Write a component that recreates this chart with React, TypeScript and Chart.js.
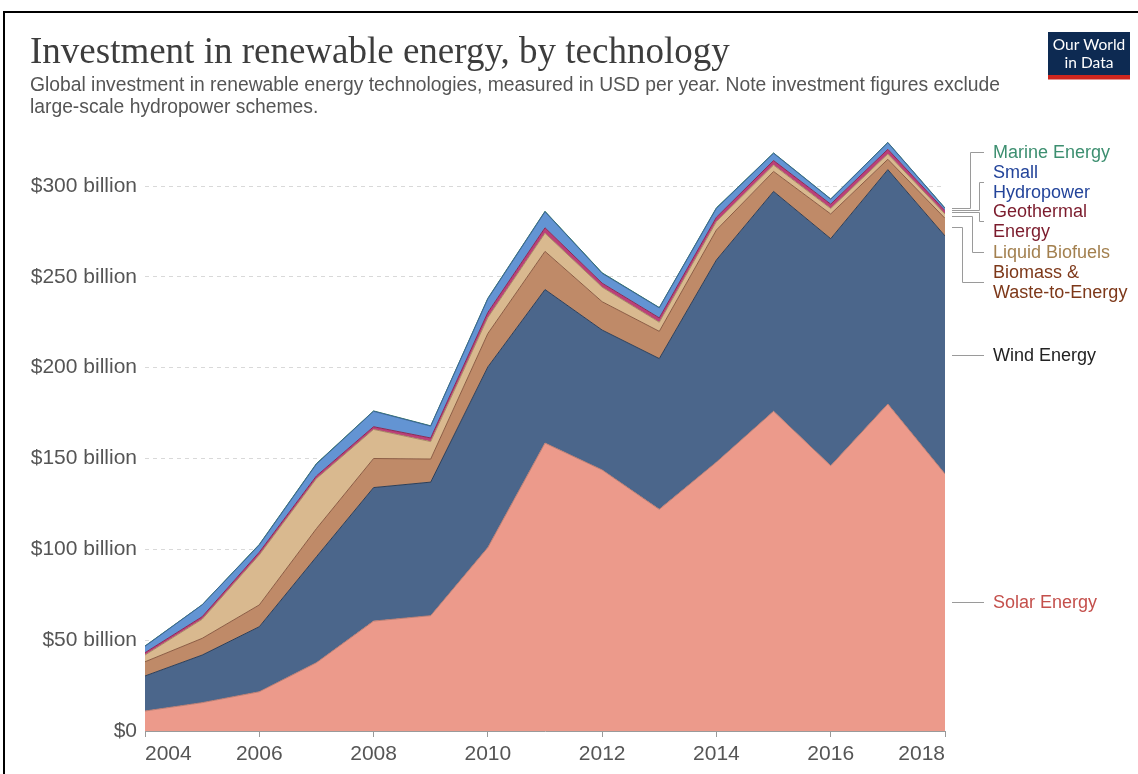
import React, { useEffect, useRef } from 'react';
import { Chart, registerables } from 'chart.js';

Chart.register(...registerables);

// ---- data (USD billions per year) ----
const years = [2004, 2005, 2006, 2007, 2008, 2009, 2010, 2011, 2012, 2013, 2014, 2015, 2016, 2017, 2018];
const solarEnergy = [11, 15.6, 21.6, 37.6, 60.5, 63.5, 101, 158.5, 143.7, 122, 148, 176, 146, 180, 141.5];
const windEnergy = [19.3, 26.2, 35.8, 58.3, 73.5, 73.5, 99.4, 84.5, 77, 83, 111.3, 121, 125, 129, 131];
const biomassWaste = [7.8, 9.2, 12, 15.5, 16, 12.7, 18.4, 21, 15.6, 15, 16.5, 11, 13.6, 5.7, 9.7];
const liquidBiofuels = [3.7, 10.5, 27.5, 27.5, 16, 9.6, 8.8, 10, 8, 5, 4.6, 3.5, 3, 2.9, 2.4];
const geothermalEnergy = [1.3, 1.4, 1.5, 1.5, 1.5, 2, 2.8, 3, 2.2, 2.4, 2.4, 2.5, 2.4, 2.6, 1.8];
const smallHydropower = [3.5, 6.5, 4, 6.5, 8.5, 6.5, 7.5, 8.8, 5.4, 5.5, 4.9, 4, 2.7, 3.6, 1.3];
const marineEnergy = [0.2, 0.1, 0.3, 0.3, 0.2, 0.2, 0.3, 0.3, 0.3, 0.2, 0.3, 0.2, 0.2, 0.2, 0.2];

const yTickValues = [0, 50, 100, 150, 200, 250, 300];
const xTickYears = [2004, 2006, 2008, 2010, 2012, 2014, 2016, 2018];

const titleText = 'Investment in renewable energy, by technology';
const subtitleLines = [
  'Global investment in renewable energy technologies, measured in USD per year. Note investment figures exclude',
  'large-scale hydropower schemes.',
];

const SANS = '"Liberation Sans", Arial, sans-serif';
const SERIF = '"Liberation Serif", "DejaVu Serif", serif';

const series = [
  { name: 'Solar Energy', values: solarEnergy, fill: '#ec9a8b', line: '#b97d73', text: '#c4504c', lines: ['Solar Energy'], labelY: null as number | null, xv: 0 },
  { name: 'Wind Energy', values: windEnergy, fill: '#4b668b', line: '#2f3f57', text: '#222222', lines: ['Wind Energy'], labelY: null as number | null, xv: 0 },
  { name: 'Biomass & Waste-to-Energy', values: biomassWaste, fill: '#bf8a68', line: '#8c5d44', text: '#7d3819', lines: ['Biomass &', 'Waste-to-Energy'], labelY: 282, xv: 962 },
  { name: 'Liquid Biofuels', values: liquidBiofuels, fill: '#d9b98f', line: '#a88a66', text: '#a3804f', lines: ['Liquid Biofuels'], labelY: 252, xv: 972 },
  { name: 'Geothermal Energy', values: geothermalEnergy, fill: '#bb4079', line: '#8a2a55', text: '#7b1b2c', lines: ['Geothermal', 'Energy'], labelY: 221, xv: 979 },
  { name: 'Small Hydropower', values: smallHydropower, fill: '#6394d3', line: '#3e6698', text: '#23449a', lines: ['Small', 'Hydropower'], labelY: 182, xv: 979 },
  { name: 'Marine Energy', values: marineEnergy, fill: '#3c9a78', line: '#2e7a5e', text: '#3d8f70', lines: ['Marine Energy'], labelY: 152, xv: 970 },
];

const decorPlugin = {
  id: 'decor',
  afterDraw(chart: any) {
    const ctx = chart.ctx as CanvasRenderingContext2D;
    const area = chart.chartArea;
    const yScale = chart.scales.y;
    ctx.save();
    // title
    ctx.fillStyle = '#3d3d3d';
    ctx.font = `37px ${SERIF}`;
    ctx.textBaseline = 'alphabetic';
    ctx.textAlign = 'left';
    ctx.fillText(titleText, 30, 63);
    // subtitle
    ctx.fillStyle = '#555555';
    ctx.font = `19.3px ${SANS}`;
    ctx.fillText(subtitleLines[0], 30, 91);
    ctx.fillText(subtitleLines[1], 30, 113);
    // logo
    ctx.fillStyle = '#0d2a52';
    ctx.fillRect(1048, 32, 82, 44);
    ctx.fillStyle = '#ce261e';
    ctx.fillRect(1048, 75, 82, 4.5);
    ctx.fillStyle = '#ffffff';
    ctx.font = `15.5px Lato, ${SANS}`;
    ctx.textAlign = 'center';
    ctx.fillText('Our World', 1089, 50);
    ctx.fillText('in Data', 1089, 68);
    // legend labels with leader lines
    ctx.textAlign = 'left';
    ctx.textBaseline = 'middle';
    ctx.font = `18px ${SANS}`;
    const last = years.length - 1;
    series.forEach((s, i) => {
      const top = chart.getDatasetMeta(i).data[last].y;
      const bottom = i === 0 ? yScale.getPixelForValue(0) : chart.getDatasetMeta(i - 1).data[last].y;
      const mid = (top + bottom) / 2;
      const x0 = area.right + 7;
      const xEnd = 984;
      const ly = s.labelY == null ? mid : s.labelY;
      ctx.strokeStyle = '#9a9a9a';
      ctx.lineWidth = 1;
      ctx.beginPath();
      if (s.labelY == null) {
        ctx.moveTo(x0, Math.round(mid) + 0.5);
        ctx.lineTo(xEnd, Math.round(mid) + 0.5);
      } else {
        ctx.moveTo(x0, Math.round(mid) + 0.5);
        ctx.lineTo(s.xv + 0.5, Math.round(mid) + 0.5);
        ctx.lineTo(s.xv + 0.5, Math.round(ly) + 0.5);
        ctx.lineTo(xEnd, Math.round(ly) + 0.5);
      }
      ctx.stroke();
      ctx.fillStyle = s.text;
      const lh = 19.5;
      const startY = ly - ((s.lines.length - 1) * lh) / 2;
      s.lines.forEach((t, k) => ctx.fillText(t, 993, startY + k * lh + 1));
    });
    ctx.restore();
  },
};

export default function App() {
  const ref = useRef<HTMLCanvasElement>(null);
  useEffect(() => {
    const canvas = ref.current;
    if (!canvas) return;
    const chart = new Chart(canvas, {
      type: 'line',
      data: {
        datasets: series.map((s, i) => ({
          label: s.name,
          data: years.map((yr, k) => ({ x: yr, y: s.values[k] })),
          backgroundColor: s.fill,
          borderColor: s.line,
          borderWidth: 1,
          fill: i === 0 ? 'origin' : '-1',
          pointRadius: 0,
          tension: 0,
        })),
      },
      options: {
        responsive: false,
        animation: false,
        devicePixelRatio: 1,
        layout: { padding: { left: 0, right: 193, top: 131.5, bottom: 0 } },
        plugins: { legend: { display: false }, tooltip: { enabled: false } },
        scales: {
          x: {
            type: 'linear',
            min: years[0],
            max: years[years.length - 1],
            z: 1,
            afterBuildTicks: (s: any) => {
              s.ticks = xTickYears.map((v) => ({ value: v }));
            },
            ticks: {
              autoSkip: false,
              maxRotation: 0,
              align: 'inner',
              color: '#555555',
              font: { family: SANS, size: 21 },
              padding: 5,
              callback: (v: any) => String(v),
            },
            grid: { drawOnChartArea: false, drawTicks: true, tickLength: 6, color: '#999999' },
            border: { display: true, color: '#9a9a9a' },
            afterFit: (s: any) => {
              s.height = 43;
            },
          },
          y: {
            stacked: true,
            min: 0,
            max: 330,
            z: 1,
            afterBuildTicks: (s: any) => {
              s.ticks = yTickValues.map((v) => ({ value: v }));
            },
            ticks: {
              color: '#555555',
              font: { family: SANS, size: 21 },
              padding: 8,
              callback: (v: any) => (v === 0 ? '$0' : `$${v} billion`),
            },
            grid: {
              drawTicks: false,
              color: (c: any) => (c.tick && c.tick.value === 0 ? 'rgba(0,0,0,0)' : 'rgba(0,0,0,0.15)'),
            },
            border: { display: false, dash: [4, 4] },
            afterFit: (s: any) => {
              s.width = 145;
            },
          },
        },
      },
      plugins: [decorPlugin],
    } as any);
    return () => chart.destroy();
  }, []);

  return (
    <div style={{ position: 'absolute', left: 0, top: 0, width: 1138, height: 774, background: '#ffffff', overflow: 'hidden' }}>
      <canvas ref={ref} width={1138} height={774} style={{ display: 'block', width: 1138, height: 774 }} />
      <div
        style={{
          position: 'absolute',
          left: 3,
          top: 11,
          width: 1140,
          height: 770,
          borderTop: '2px solid #000',
          borderLeft: '2px solid #000',
          pointerEvents: 'none',
        }}
      />
    </div>
  );
}
